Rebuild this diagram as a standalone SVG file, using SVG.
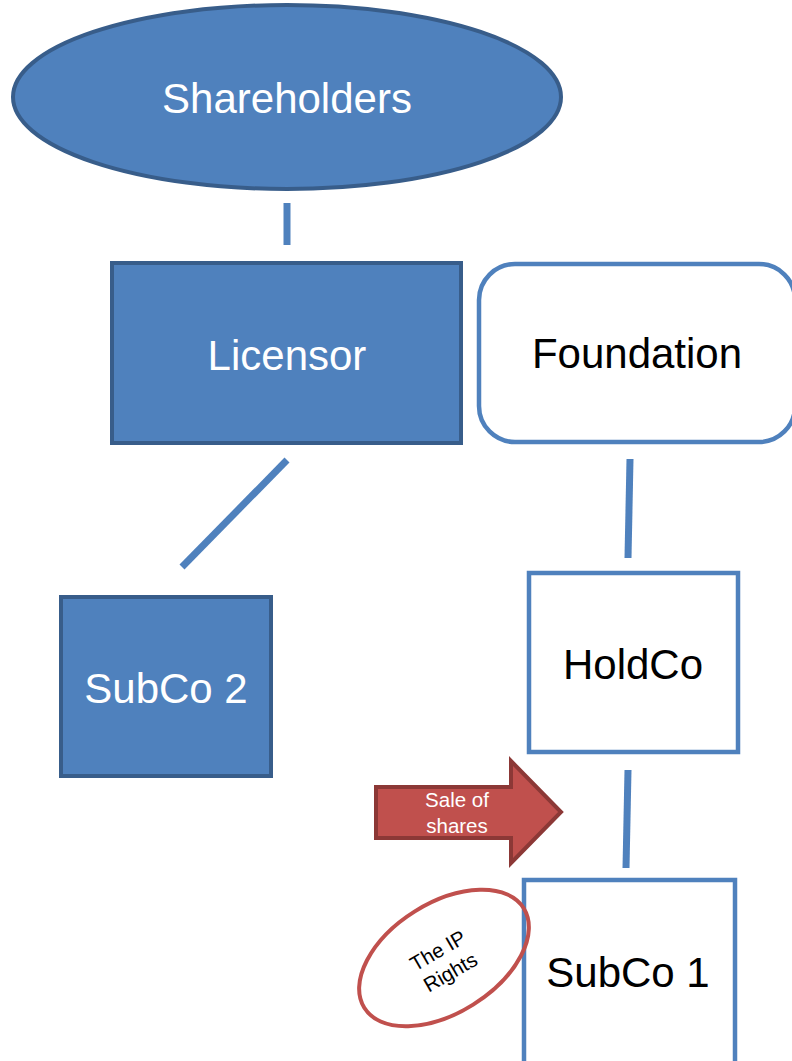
<svg xmlns="http://www.w3.org/2000/svg" width="792" height="1061" viewBox="0 0 792 1061">
<style>
.dark{fill:#4f81bd;stroke:#385d8a;stroke-width:4}
.light{fill:#ffffff;stroke:#4f81bd;stroke-width:4.5}
.conn{stroke:#4f81bd;stroke-width:7;fill:none}
.tw{font-family:"Liberation Sans",Arial,sans-serif;font-size:42px;fill:#ffffff;text-anchor:middle}
.tb{font-family:"Liberation Sans",Arial,sans-serif;font-size:42px;fill:#000000;text-anchor:middle}
.small{font-family:"Liberation Sans",Arial,sans-serif;font-size:20.5px;text-anchor:middle}
</style>
<rect width="792" height="1061" fill="#ffffff"/>
<g id="connectors">
<line class="conn" x1="287" y1="203" x2="287" y2="245"/>
<line class="conn" x1="287" y1="460" x2="182" y2="567"/>
<line class="conn" x1="630" y1="459" x2="628" y2="558"/>
<line class="conn" x1="628" y1="770" x2="626" y2="868"/>
</g>
<g id="shareholders">
<ellipse class="dark" cx="287" cy="97" rx="274" ry="92"/>
<text class="tw" x="287" y="113">Shareholders</text>
</g>
<g id="licensor">
<rect class="dark" x="112" y="263" width="349" height="180"/>
<text class="tw" x="287" y="370">Licensor</text>
</g>
<g id="foundation">
<rect class="light" x="479" y="264" width="316" height="178" rx="36"/>
<text class="tb" x="637" y="368">Foundation</text>
</g>
<g id="subco2">
<rect class="dark" x="61" y="597" width="210" height="179"/>
<text class="tw" x="166" y="703">SubCo 2</text>
</g>
<g id="holdco">
<rect class="light" x="529" y="573" width="209" height="179"/>
<text class="tb" x="633" y="679">HoldCo</text>
</g>
<g id="subco1">
<rect class="light" x="524" y="880" width="211" height="190"/>
<text class="tb" x="628" y="987">SubCo 1</text>
</g>
<g id="sale-of-shares">
<polygon points="376,787 511,787 511,761 561,812 511,863 511,838 376,838" fill="#c0504d" stroke="#8c3836" stroke-width="4" stroke-linejoin="miter"/>
<text class="small" x="457" y="807" fill="#ffffff">Sale of</text>
<text class="small" x="457" y="833" fill="#ffffff">shares</text>
</g>
<g id="ip-rights">
<ellipse cx="444" cy="958" rx="94" ry="55" transform="rotate(-32 444 958)" fill="none" stroke="#c0504d" stroke-width="4"/>
<g transform="rotate(-30 444 961)">
<text class="small" x="444" y="956" fill="#000000">The IP</text>
<text class="small" x="444" y="981" fill="#000000">Rights</text>
</g>
</g>
</svg>
